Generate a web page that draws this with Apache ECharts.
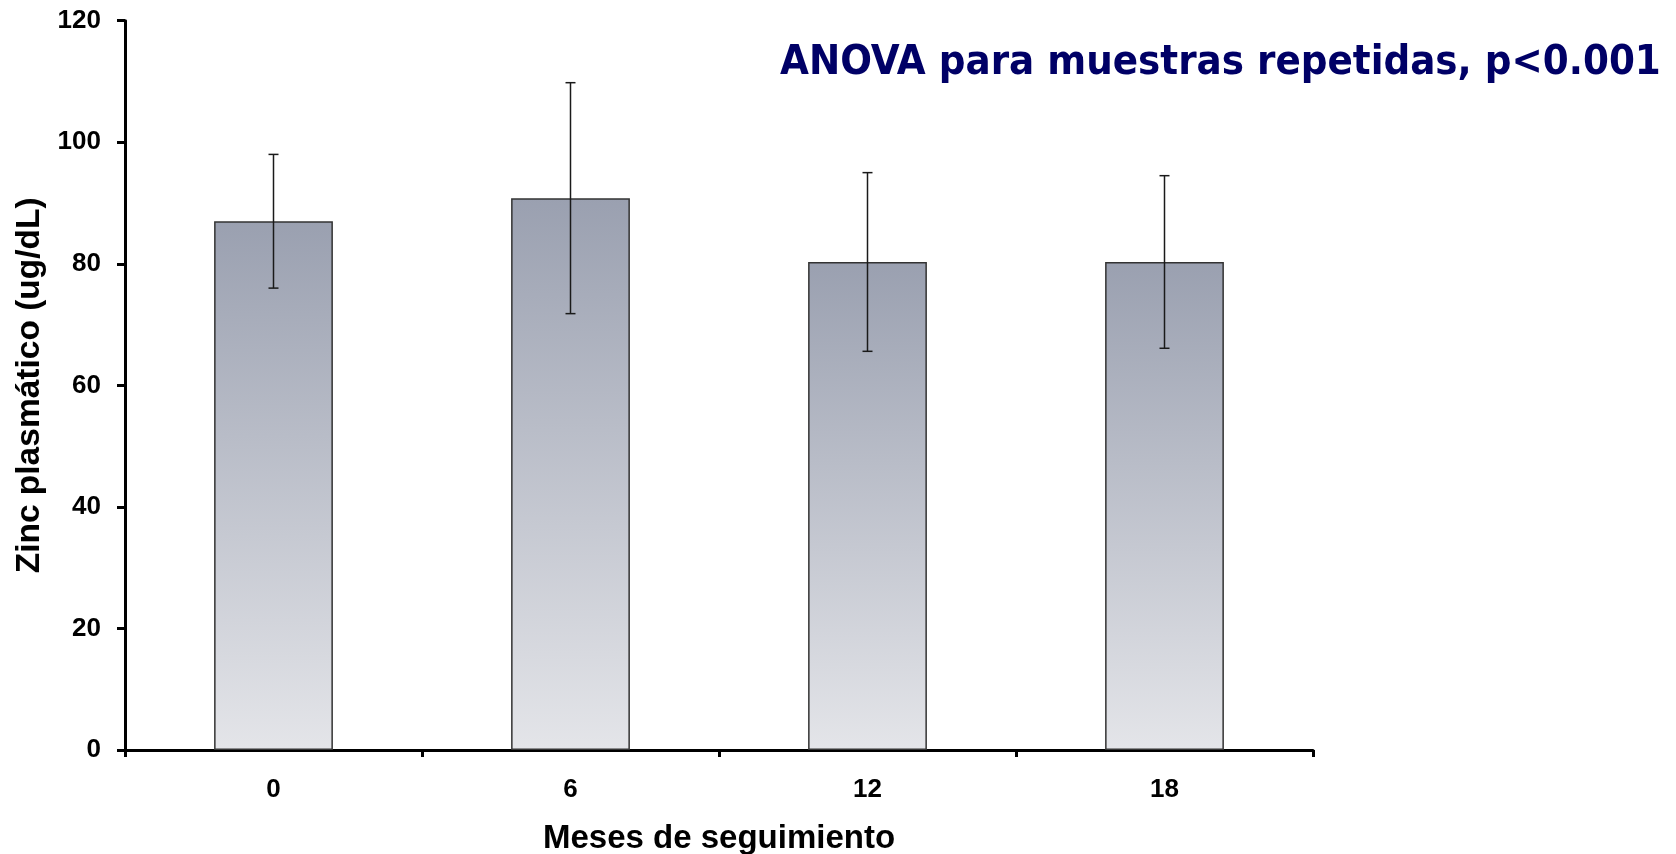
<!DOCTYPE html>
<html>
<head>
<meta charset="utf-8">
<script src="https://cdn.jsdelivr.net/npm/echarts@6/dist/echarts.min.js"></script>
<style>
  html, body { margin: 0; padding: 0; background: #ffffff; }
  #chart { width: 1676px; height: 854px; }
</style>
</head>
<body>
<div id="chart"></div>
<script>
// Months of follow-up
const months = ['0', '6', '12', '18'];
// Mean plasma zinc (ug/dL)
const zincMean = [87.0, 90.8, 80.3, 80.3];
// Standard deviation shown as error bars
const zincSD = [11.0, 19.0, 14.7, 14.2];
// Y axis ticks
const yTicks = [0, 20, 40, 60, 80, 100, 120];

const chart = echarts.init(document.getElementById('chart'), null, { renderer: 'canvas' });

const errorData = months.map((m, i) => [i, zincMean[i] - zincSD[i], zincMean[i] + zincSD[i]]);

const option = {
  animation: false,
  backgroundColor: '#ffffff',
  grid: { left: 125, right: 363, top: 20.7, bottom: 104, containLabel: false, outerBoundsMode: 'none' },
  graphic: [{
    type: 'text',
    left: 780,
    top: 42,
    style: {
      text: 'ANOVA para muestras repetidas, p<0.001',
      fontFamily: "'DejaVu Sans Condensed', 'DejaVu Sans', sans-serif",
      fontWeight: 'bold',
      fontSize: 41.5,
      fill: '#000066'
    }
  }],
  xAxis: {
    type: 'category',
    data: months,
    name: 'Meses de seguimiento',
    nameLocation: 'middle',
    nameGap: 72,
    nameTextStyle: { fontFamily: 'Liberation Sans, Arial, sans-serif', fontWeight: 'bold', fontSize: 33, color: '#000' },
    axisLine: { lineStyle: { color: '#000', width: 3 } },
    axisTick: { show: true, length: 7, lineStyle: { color: '#000', width: 3 } },
    axisLabel: { margin: 27, fontFamily: 'Liberation Sans, Arial, sans-serif', fontWeight: 'bold', fontSize: 26, color: '#000' }
  },
  yAxis: {
    type: 'value',
    min: yTicks[0],
    max: yTicks[yTicks.length - 1],
    interval: yTicks[1] - yTicks[0],
    name: 'Zinc plasmático (ug/dL)',
    nameLocation: 'middle',
    nameGap: 77,
    nameTextStyle: { fontFamily: 'Liberation Sans, Arial, sans-serif', fontWeight: 'bold', fontSize: 33.5, color: '#000' },
    splitLine: { show: false },
    axisLine: { show: true, lineStyle: { color: '#000', width: 3 } },
    axisTick: { show: true, length: 8, lineStyle: { color: '#000', width: 3 } },
    axisLabel: { margin: 24, fontFamily: 'Liberation Sans, Arial, sans-serif', fontWeight: 'bold', fontSize: 26, color: '#000' }
  },
  series: [
    {
      type: 'bar',
      data: zincMean,
      barWidth: '40%',
      itemStyle: {
        color: new echarts.graphic.LinearGradient(0, 0, 0, 1, [
          { offset: 0, color: '#9aa0b0' },
          { offset: 1, color: '#e4e5e9' }
        ]),
        borderColor: '#333333',
        borderWidth: 1.5
      }
    },
    {
      type: 'custom',
      data: errorData,
      z: 10,
      renderItem: function (params, api) {
        const x = api.value(0);
        const lo = api.coord([x, api.value(1)]);
        const hi = api.coord([x, api.value(2)]);
        const cap = 5;
        const style = { stroke: '#1a1a1a', lineWidth: 1.5 };
        return {
          type: 'group',
          children: [
            { type: 'line', shape: { x1: hi[0], y1: hi[1], x2: lo[0], y2: lo[1] }, style: style },
            { type: 'line', shape: { x1: hi[0] - cap, y1: hi[1], x2: hi[0] + cap, y2: hi[1] }, style: style },
            { type: 'line', shape: { x1: lo[0] - cap, y1: lo[1], x2: lo[0] + cap, y2: lo[1] }, style: style }
          ]
        };
      }
    }
  ]
};

chart.setOption(option);
</script>
</body>
</html>
